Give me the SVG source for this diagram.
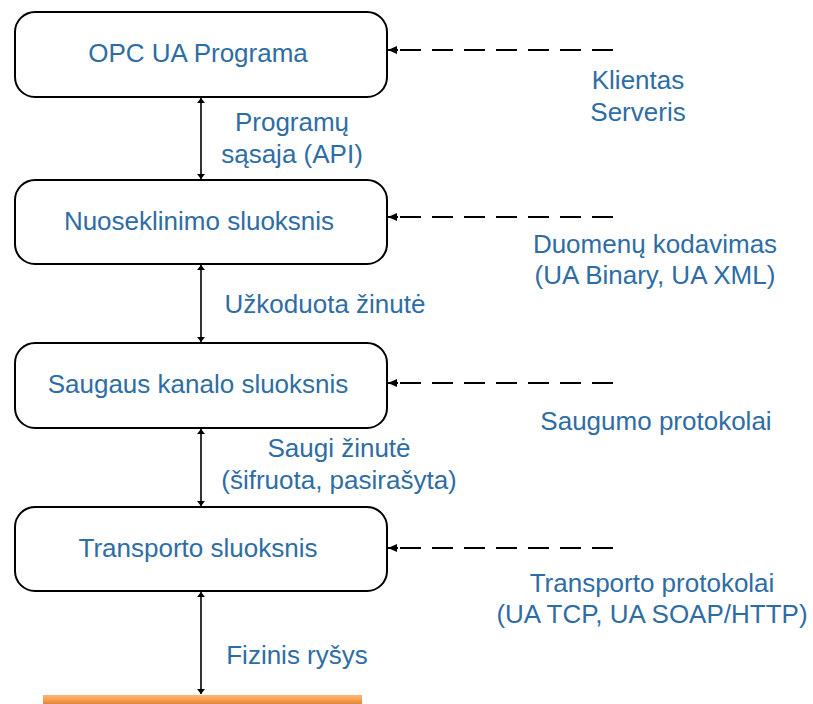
<svg xmlns="http://www.w3.org/2000/svg" width="813" height="704" viewBox="0 0 813 704">
<style>
.box{fill:#fff;stroke:#000;stroke-width:2}
.t{font-family:"Liberation Sans",Arial,sans-serif;font-size:26px;fill:#2E6DA4;text-anchor:middle}
.v{stroke:#000;stroke-width:1.6;fill:none;marker-start:url(#ah);marker-end:url(#ah)}
.d{stroke:#000;stroke-width:2;fill:none;stroke-dasharray:21 11;}
</style>
<defs>
<marker id="ah" viewBox="0 0 10 10" refX="10" refY="5" markerWidth="5" markerHeight="8" markerUnits="userSpaceOnUse" orient="auto-start-reverse" preserveAspectRatio="none">
<path d="M0,0 L10,5 L0,10 z" fill="#000"/>
</marker>
<marker id="lh" viewBox="0 0 10 10" refX="10" refY="5" markerWidth="9" markerHeight="8" markerUnits="userSpaceOnUse" orient="auto" preserveAspectRatio="none">
<path d="M0,0 L10,5 L0,10 z" fill="#000"/>
</marker>
<linearGradient id="og" x1="0" y1="0" x2="0" y2="1">
<stop offset="0" stop-color="#FFB774"/>
<stop offset="0.6" stop-color="#F59A4C"/>
<stop offset="1" stop-color="#DE8540"/>
</linearGradient>
</defs>
<g id="connectors">
<line class="v" x1="201" y1="98" x2="201" y2="179"/>
<line class="v" x1="201" y1="265" x2="201" y2="342"/>
<line class="v" x1="201" y1="429" x2="201" y2="506"/>
<line class="v" x1="201" y1="592" x2="201" y2="694"/>
<line class="d" x1="613" y1="50" x2="398" y2="50"/>
<line x1="398" y1="50" x2="388" y2="50" stroke="#000" stroke-width="2" marker-end="url(#lh)"/>
<line class="d" x1="613" y1="217" x2="398" y2="217"/>
<line x1="398" y1="217" x2="388" y2="217" stroke="#000" stroke-width="2" marker-end="url(#lh)"/>
<line class="d" x1="613" y1="383" x2="398" y2="383"/>
<line x1="398" y1="383" x2="388" y2="383" stroke="#000" stroke-width="2" marker-end="url(#lh)"/>
<line class="d" x1="613" y1="548" x2="398" y2="548"/>
<line x1="398" y1="548" x2="388" y2="548" stroke="#000" stroke-width="2" marker-end="url(#lh)"/>
</g>
<g id="n1"><rect class="box" x="15" y="12" width="372" height="85" rx="20"/><text class="t" x="198" y="62">OPC UA Programa</text></g>
<g id="n2"><rect class="box" x="15" y="180" width="372" height="84" rx="20"/><text class="t" x="199" y="230">Nuoseklinimo sluoksnis</text></g>
<g id="n3"><rect class="box" x="15" y="343" width="372" height="85" rx="20"/><text class="t" x="198" y="393">Saugaus kanalo sluoksnis</text></g>
<g id="n4"><rect class="box" x="15" y="507" width="372" height="84" rx="20"/><text class="t" x="198" y="557">Transporto sluoksnis</text></g>
<g id="physical"><rect x="43" y="695" width="319" height="9" fill="url(#og)"/></g>
<g id="labels">
<text class="t" x="292" y="131">Programų</text>
<text class="t" x="292" y="163">sąsaja (API)</text>
<text class="t" x="325" y="313">Užkoduota žinutė</text>
<text class="t" x="339" y="457">Saugi žinutė</text>
<text class="t" x="339" y="489">(šifruota, pasirašyta)</text>
<text class="t" x="297" y="664">Fizinis ryšys</text>
<text class="t" x="638" y="89">Klientas</text>
<text class="t" x="638" y="121">Serveris</text>
<text class="t" x="655" y="253">Duomenų kodavimas</text>
<text class="t" x="655" y="284">(UA Binary, UA XML)</text>
<text class="t" x="656" y="430">Saugumo protokolai</text>
<text class="t" x="652" y="592">Transporto protokolai</text>
<text class="t" x="652" y="623">(UA TCP, UA SOAP/HTTP)</text>
</g>
</svg>
